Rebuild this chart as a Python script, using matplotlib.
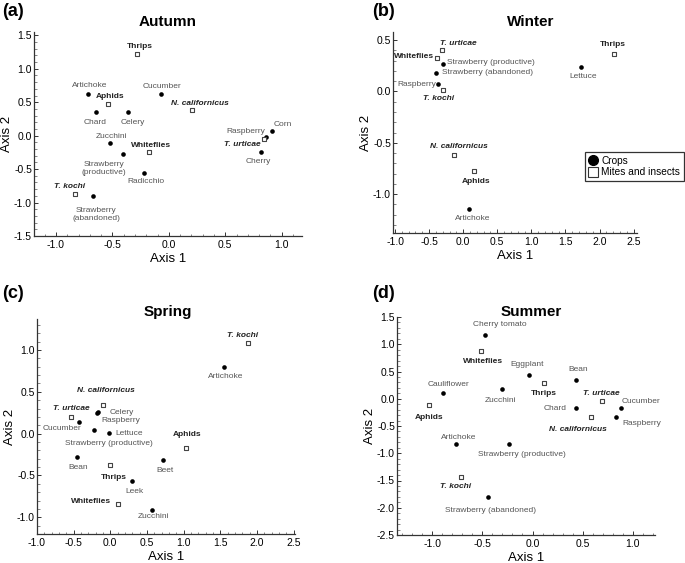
import matplotlib
matplotlib.use("Agg")
import matplotlib.pyplot as plt
from matplotlib.ticker import MultipleLocator, FormatStrFormatter
from matplotlib.lines import Line2D

plt.rcParams['font.family'] = ['Liberation Sans', 'DejaVu Sans']

# ---------------- DATA ----------------
# (a) Autumn
a_crop_names = ["Artichoke", "Chard", "Celery", "Cucumber", "Corn", "Raspberry", "Cherry",
                "Zucchini", "Strawberry\n(productive)", "Radicchio", "Strawberry\n(abandoned)"]
a_crop_x = [-0.713, -0.645, -0.359, -0.069, 0.917, 0.858, 0.817, -0.521, -0.409, -0.22, -0.669]
a_crop_y = [0.63, 0.354, 0.354, 0.63, 0.074, -0.02, -0.246, -0.113, -0.276, -0.551, -0.905]
a_pest_names = ["Thrips", "Aphids", "N. californicus", "T. urticae", "Whiteflies", "T. kochi"]
a_pest_x = [-0.285, -0.536, 0.208, 0.843, -0.179, -0.832]
a_pest_y = [1.22, 0.467, 0.378, -0.055, -0.246, -0.876]

# (b) Winter
b_crop_names = ["Strawberry (productive)", "Strawberry (abandoned)", "Raspberry", "Lettuce", "Artichoke"]
b_crop_x = [-0.30, -0.392, -0.363, 1.722, 0.089]
b_crop_y = [0.27, 0.182, 0.075, 0.237, -1.143]
b_pest_names = ["T. urticae", "Whiteflies", "T. kochi", "Thrips", "N. californicus", "Aphids"]
b_pest_x = [-0.305, -0.378, -0.29, 2.209, -0.135, 0.157]
b_pest_y = [0.409, 0.331, 0.016, 0.364, -0.62, -0.776]

# (c) Spring
c_crop_names = ["Artichoke", "Celery", "Raspberry", "Cucumber", "Strawberry (productive)", "Lettuce",
                "Bean", "Beet", "Leek", "Zucchini"]
c_crop_x = [1.545, -0.165, -0.18, -0.423, -0.227, -0.014, -0.455, 0.718, 0.30, 0.568]
c_crop_y = [0.80, 0.26, 0.25, 0.139, 0.044, 0.012, -0.283, -0.319, -0.566, -0.908]
c_pest_names = ["T. kochi", "N. californicus", "T. urticae", "Aphids", "Thrips", "Whiteflies"]
c_pest_x = [1.877, -0.10, -0.532, 1.032, 0.0, 0.10]
c_pest_y = [1.088, 0.347, 0.199, -0.167, -0.378, -0.845]

# (d) Summer
d_crop_names = ["Cherry tomato", "Eggplant", "Bean", "Zucchini", "Cauliflower", "Chard", "Cucumber",
                "Raspberry", "Artichoke", "Strawberry (productive)", "Strawberry (abandoned)"]
d_crop_x = [-0.469, -0.038, 0.436, -0.307, -0.887, 0.436, 0.884, 0.828, -0.765, -0.234, -0.446]
d_crop_y = [1.176, 0.443, 0.352, 0.181, 0.108, -0.161, -0.173, -0.338, -0.827, -0.839, -1.81]
d_pest_names = ["Whiteflies", "Thrips", "T. urticae", "Aphids", "N. californicus", "T. kochi"]
d_pest_x = [-0.516, 0.118, 0.692, -1.036, 0.579, -0.715]
d_pest_y = [0.883, 0.291, -0.045, -0.118, -0.326, -1.431]

# ---------------- LAYOUT (label offsets in pixels) ----------------
a_crop_off = [(1, 8), (-1, -11), (4, -11), (1, 7), (10, 6), (-20, 6), (-3, -9), (1, 7), (-19, -14), (2, -9), (3, -18)]
a_pest_off = [(3, 8), (2, 8), (8, 7), (-22, -5), (2, 7), (-5, 8)]
b_crop_off = [(48, 1), (51, 0), (-22, -1), (3, -9), (3, -10)]
b_pest_off = [(16, 6), (-23, 1), (-5, -9), (-1, 10), (5, 9), (2, -10)]
c_crop_off = [(2, -10), (24, -1), (24, -8), (-17, -7), (15, -14), (20, -1), (1, -10), (2, -10), (2, -11), (2, -7)]
c_pest_off = [(-5, 7), (3, 14), (0, 8), (1, 13), (4, -12), (-27, 3)]
d_crop_off = [(14, 10), (-2, 10), (2, 10), (-1, -12), (5, 8), (-21, -1), (20, 7), (26, -6), (3, 6), (13, -10), (3, -13)]
d_pest_off = [(2, -11), (-1, -11), (-1, 8), (1, -12), (-13, -13), (-5, -10)]

LABEL_GRAY = "#555555"
PEST_DARK = "#222222"
LABEL_FS = 6.0


def pest_style(name):
    italic = name.startswith("T.") or name.startswith("N.")
    return dict(fontweight="bold", fontstyle="italic" if italic else "normal")


def make_panel(fig, rect, title, letter, title_pos, letter_pos,
               crop_names, crop_x, crop_y, crop_off,
               pest_names, pest_x, pest_y, pest_off,
               xlim, ylim):
    ax = fig.add_axes(rect)
    ax.scatter(crop_x, crop_y, s=11, c="black", marker="o", zorder=3, linewidths=0)
    ax.scatter(pest_x, pest_y, s=12, facecolors="white", edgecolors="#444444",
               marker="s", linewidths=0.8, zorder=3)
    for n, x, y, (dx, dy) in zip(crop_names, crop_x, crop_y, crop_off):
        ax.annotate(n, (x, y), xytext=(dx, dy), textcoords="offset pixels",
                    ha="center", va="center", fontsize=LABEL_FS, color=LABEL_GRAY,
                    linespacing=1.25)
    for n, x, y, (dx, dy) in zip(pest_names, pest_x, pest_y, pest_off):
        ax.annotate(n, (x, y), xytext=(dx, dy), textcoords="offset pixels",
                    ha="center", va="center", fontsize=LABEL_FS, color=PEST_DARK,
                    **pest_style(n))
    ax.set_xlim(*xlim)
    ax.set_ylim(*ylim)
    for s in ("top", "right"):
        ax.spines[s].set_visible(False)
    for s in ("left", "bottom"):
        ax.spines[s].set_linewidth(0.9)
        ax.spines[s].set_color("#333333")
    ax.xaxis.set_major_locator(MultipleLocator(0.5))
    ax.yaxis.set_major_locator(MultipleLocator(0.5))
    ax.xaxis.set_minor_locator(MultipleLocator(0.1))
    ax.yaxis.set_minor_locator(MultipleLocator(0.1))
    ax.tick_params(which="major", direction="in", length=3, width=0.7, labelsize=7.5,
                   colors="#333333", labelcolor="black")
    ax.tick_params(axis="x", which="major", pad=3)
    ax.tick_params(axis="y", which="major", pad=1.5)
    ax.tick_params(which="minor", direction="in", length=1.8, width=0.5, colors="#555555")
    ax.xaxis.set_major_formatter(FormatStrFormatter("%.1f"))
    ax.yaxis.set_major_formatter(FormatStrFormatter("%.1f"))
    ax.set_xlabel("Axis 1", fontsize=9.5, labelpad=2)
    ax.set_ylabel("Axis 2", fontsize=9.5, labelpad=1)
    fig.text(title_pos[0], title_pos[1], title, fontsize=11, fontweight="bold", ha="center", va="center")
    fig.text(letter_pos[0], letter_pos[1], letter, fontsize=13, fontweight="bold", ha="left", va="center")
    return ax


fig = plt.figure(figsize=(6.85, 5.63), dpi=100)

W, H = 685.0, 563.0


def rect(l, r, t, b):
    return [l / W, 1 - b / H, (r - l) / W, (b - t) / H]


make_panel(fig, rect(34, 302, 32, 236), "Autumn", "(a)", (168 / W, 1 - 22 / H), (2 / W, 1 - 12 / H),
           a_crop_names, a_crop_x, a_crop_y, a_crop_off,
           a_pest_names, a_pest_x, a_pest_y, a_pest_off,
           (-1.195, 1.18), (-1.5, 1.55))

make_panel(fig, rect(393, 637, 32, 233), "Winter", "(b)", (531 / W, 1 - 22 / H), (372 / W, 1 - 12 / H),
           b_crop_names, b_crop_x, b_crop_y, b_crop_off,
           b_pest_names, b_pest_x, b_pest_y, b_pest_off,
           (-1.03, 2.55), (-1.38, 0.58))

make_panel(fig, rect(37, 295, 319, 534), "Spring", "(c)", (168 / W, 1 - 312 / H), (2 / W, 1 - 293 / H),
           c_crop_names, c_crop_x, c_crop_y, c_crop_off,
           c_pest_names, c_pest_x, c_pest_y, c_pest_off,
           (-1.0, 2.52), (-1.2, 1.37))

make_panel(fig, rect(397, 655, 317, 535), "Summer", "(d)", (531 / W, 1 - 312 / H), (372 / W, 1 - 293 / H),
           d_crop_names, d_crop_x, d_crop_y, d_crop_off,
           d_pest_names, d_pest_x, d_pest_y, d_pest_off,
           (-1.35, 1.22), (-2.5, 1.5))

handles = [Line2D([], [], marker="o", color="black", linestyle="none", markersize=7, label="Crops"),
           Line2D([], [], marker="s", markerfacecolor="white", markeredgecolor="#333333",
                  linestyle="none", markersize=6.5, markeredgewidth=0.8, label="Mites and insects")]
leg = fig.legend(handles=handles, loc="center", bbox_to_anchor=(634.5 / W, 1 - 166.5 / H),
                 fontsize=7.3, frameon=True, fancybox=False, handlelength=0.8, handletextpad=0.4,
                 borderpad=0.35, labelspacing=0.15, borderaxespad=0)
leg.get_frame().set_edgecolor("black")
leg.get_frame().set_linewidth(0.9)

fig.savefig("out.png", dpi=100)
